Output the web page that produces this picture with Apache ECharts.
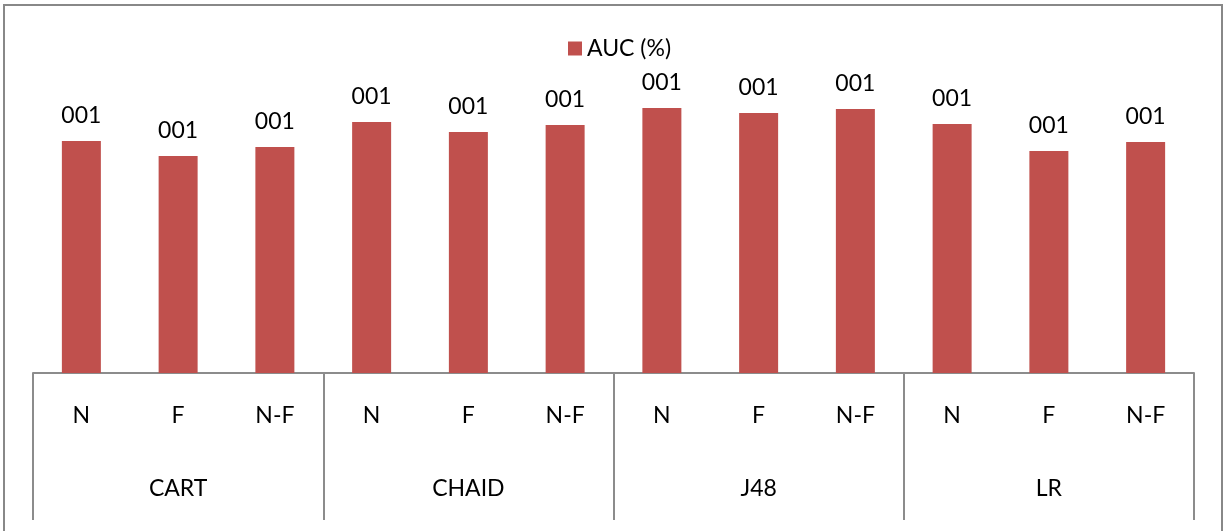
<!DOCTYPE html>
<html>
<head>
<meta charset="utf-8">
<script src="https://cdn.jsdelivr.net/npm/echarts@6/dist/echarts.min.js"></script>
<style>
  html, body { margin: 0; padding: 0; background: #fff; }
  #chart { width: 1228px; height: 531px; }
</style>
</head>
<body>
<div id="chart"></div>
<script>
// AUC per model and feature setting
const methods = ['N', 'F', 'N-F', 'N', 'F', 'N-F', 'N', 'F', 'N-F', 'N', 'F', 'N-F'];
const models = ['CART', 'CHAID', 'J48', 'LR'];
const aucValues = [77.3, 72.3, 75.3, 83.7, 80.3, 82.7, 88.3, 86.7, 88.0, 83.0, 74.0, 77.0];
const valueLabels = ['001', '001', '001', '001', '001', '001', '001', '001', '001', '001', '001', '001'];
const seriesName = 'AUC (%)';

const FONT = 'Lato, "Open Sans", sans-serif';
const GREY = '#8c8c8c';
const FS = 23;

const chart = echarts.init(document.getElementById('chart'));
chart.setOption({
  animation: false,
  textStyle: { fontFamily: FONT },
  graphic: [{
    type: 'rect',
    shape: { x: 4, y: 5, width: 1218, height: 560 },
    style: { fill: 'none', stroke: '#888', lineWidth: 2 },
    silent: true
  }],
  legend: {
    data: [{ name: seriesName, icon: 'rect' }],
    top: 32,
    left: 563,
    itemWidth: 14,
    itemHeight: 14,
    itemGap: 6,
    textStyle: { fontSize: FS, color: '#000', fontFamily: FONT }
  },
  grid: { left: 33, right: 34, top: 73, bottom: 158 },
  xAxis: [{
    type: 'category',
    data: methods,
    position: 'bottom',
    axisLine: { show: true, lineStyle: { color: GREY, width: 2 } },
    axisTick: { show: false },
    axisLabel: { margin: 31, fontSize: FS, color: '#000', fontFamily: FONT, interval: 0 }
  }, {
    type: 'category',
    data: models,
    position: 'bottom',
    axisLine: { show: false },
    axisTick: { show: true, length: 147, interval: 0, lineStyle: { color: GREY, width: 2 } },
    axisLabel: { margin: 104, fontSize: FS, color: '#000', fontFamily: FONT, interval: 0 }
  }],
  yAxis: {
    type: 'value',
    min: 0,
    max: 100,
    show: false,
    splitLine: { show: false }
  },
  series: [{
    name: seriesName,
    type: 'bar',
    xAxisIndex: 0,
    data: aucValues,
    barWidth: 39,
    itemStyle: { color: '#C0504D' },
    label: {
      show: true,
      position: 'top',
      distance: 14,
      fontSize: FS,
      color: '#000',
      fontFamily: FONT,
      formatter: p => valueLabels[p.dataIndex]
    }
  }]
});
</script>
</body>
</html>
